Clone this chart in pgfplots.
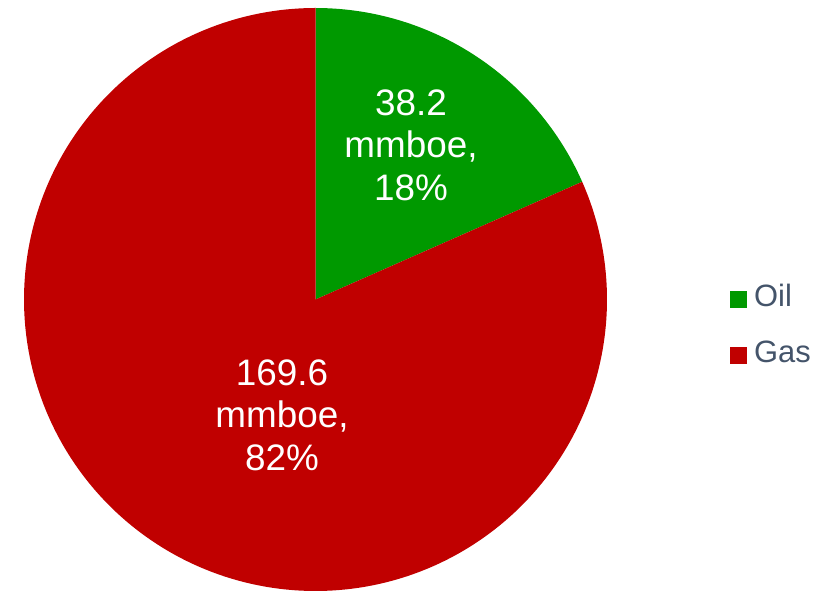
\documentclass[border=0pt]{standalone}
\usepackage{pgfplots}
\pgfplotsset{compat=1.18}
\usepackage{pgfplotstable}
\usepackage{fontspec}
\setmainfont{Liberation Sans}
\definecolor{oilc}{HTML}{009900}
\definecolor{gasc}{HTML}{C00000}
\definecolor{legtext}{HTML}{44546A}
\pgfplotstableread{
label value
Oil 38.2
Gas 169.6
}\piedata
\pgfplotstablegetelem{0}{value}\of\piedata \let\vOil\pgfplotsretval
\pgfplotstablegetelem{1}{value}\of\piedata \let\vGas\pgfplotsretval
\pgfmathsetmacro{\aOil}{360*\vOil/(\vOil+\vGas)}
\pgfmathsetmacro{\aEnd}{90-\aOil}
\def\cx{315.5}
\def\cy{291.5}
\def\rr{291.5}
\begin{document}
\begin{tikzpicture}
\useasboundingbox (0,0) rectangle (831bp,591bp);
\begin{axis}[width=831bp,height=591bp,scale only axis,
  xmin=0,xmax=831,ymin=0,ymax=591,hide axis,clip=false,
  legend image code/.code={\fill[#1] (0bp,-8.5bp) rectangle (17bp,8.5bp);},
  legend style={draw=none,fill=none,text=legtext,
    font=\fontsize{31}{36}\selectfont,
    at={(axis cs:730,263)},anchor=west,
    inner sep=0pt,row sep=30bp,
    nodes={inner sep=0pt,text height=20bp,text depth=6bp},
    cells={anchor=west},
    /tikz/every even column/.append style={column sep=0bp}},
  legend cell align=left]
\addplot[fill=oilc,draw=none,domain=\aEnd:90,samples=150,variable=\t]
  ({\cx+\rr*cos(\t)},{\cy+\rr*sin(\t)}) -- (\cx,\cy) -- cycle;
\addlegendentry{\hspace{7bp}Oil}
\addplot[fill=gasc,draw=none,domain=-270:\aEnd,samples=400,variable=\t]
  ({\cx+\rr*cos(\t)},{\cy+\rr*sin(\t)}) -- (\cx,\cy) -- cycle;
\addlegendentry{\hspace{7bp}Gas}
\node[text=white,align=center,font=\fontsize{37}{42.5}\selectfont] at (axis cs:411,446) {38.2\\mmboe,\\18\%};
\node[text=white,align=center,font=\fontsize{37}{42.5}\selectfont] at (axis cs:282,176) {169.6\\mmboe,\\82\%};
\end{axis}
\end{tikzpicture}
\end{document}
